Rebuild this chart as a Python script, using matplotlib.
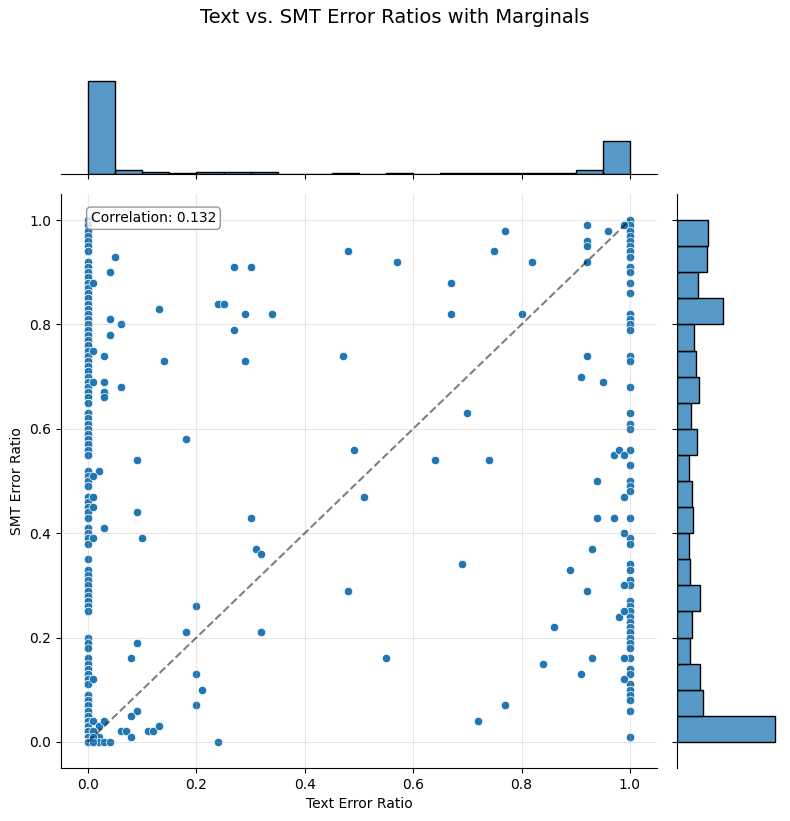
import numpy as np
import matplotlib
matplotlib.use("Agg")
import matplotlib.pyplot as plt
import seaborn as sns

# points on the x = 0 line: smt ratio and how many times it occurs
col0_y = [1.00, 0.99, 0.98, 0.97, 0.96, 0.95,
          0.94, 0.92, 0.91, 0.90,
          0.89, 0.88, 0.87, 0.86, 0.85,
          0.84, 0.83, 0.82, 0.81, 0.80,
          0.79, 0.78, 0.77, 0.76, 0.75,
          0.74, 0.73, 0.72, 0.71, 0.70,
          0.69, 0.68, 0.67, 0.66, 0.65,
          0.63, 0.62, 0.61, 0.60,
          0.59, 0.58, 0.57, 0.56, 0.55,
          0.52, 0.51, 0.50,
          0.49, 0.47, 0.46, 0.45,
          0.44, 0.43, 0.41, 0.40,
          0.39, 0.38, 0.35,
          0.33, 0.32, 0.31, 0.30,
          0.29, 0.28, 0.27, 0.26, 0.25,
          0.20,
          0.19, 0.18, 0.16, 0.15,
          0.14, 0.13, 0.12, 0.11,
          0.09, 0.08, 0.07, 0.06, 0.05,
          0.04, 0.03, 0.02, 0.01, 0.00]
col0_n = [4, 1, 2, 1, 1, 1,
          2, 3, 3, 3,
          3, 3, 3, 3, 3,
          4, 5, 5, 4, 6,
          3, 3, 2, 3, 2,
          2, 2, 3, 2, 2,
          3, 3, 3, 3, 3,
          3, 2, 3, 2,
          3, 3, 3, 2, 3,
          1, 1, 2,
          3, 2, 2, 2,
          2, 3, 2, 2,
          2, 2, 1,
          2, 1, 2, 1,
          2, 2, 3, 3, 3,
          3,
          1, 1, 1, 1,
          3, 3, 3, 3,
          4, 4, 4, 4, 3,
          6, 8, 10, 15, 33]

# points on the x = 1 line
col1_y = [1.00, 0.99, 0.98, 0.97, 0.96, 0.95,
          0.94, 0.93, 0.91, 0.90,
          0.88, 0.86,
          0.82, 0.81, 0.80,
          0.79,
          0.74, 0.73,
          0.68,
          0.63, 0.61, 0.60,
          0.56,
          0.53, 0.50,
          0.49, 0.48,
          0.43,
          0.39, 0.38,
          0.34, 0.33, 0.31, 0.30,
          0.27, 0.26, 0.25,
          0.24, 0.23, 0.22, 0.21, 0.20,
          0.19, 0.18, 0.16,
          0.14, 0.13, 0.11, 0.10,
          0.09, 0.08, 0.06,
          0.01]
col1_n = [8, 2, 2, 1, 1, 1,
          3, 3, 2, 2,
          2, 2,
          6, 2, 5,
          1,
          1, 1,
          1,
          1, 1, 1,
          1,
          1, 1,
          1, 1,
          1,
          1, 1,
          1, 1, 1, 1,
          1, 1, 4,
          1, 1, 2, 2, 2,
          1, 1, 1,
          1, 1, 1, 3,
          1, 1, 1,
          8]

# everything in between
other_x = [0.01, 0.02, 0.03, 0.02, 0.01, 0.01, 0.02, 0.03, 0.04, 0.06, 0.07, 0.08,
           0.11, 0.12, 0.13, 0.24, 0.72, 0.01,
           0.09, 0.08, 0.20, 0.77,
           0.01, 0.20, 0.21, 0.91, 0.99,
           0.08, 0.09, 0.55, 0.93, 0.99, 0.84,
           0.18, 0.32, 0.86, 0.98,
           0.20, 0.48, 0.92, 0.99,
           0.69, 0.89, 0.99,
           0.01, 0.10, 0.31, 0.32, 0.93,
           0.03, 0.09, 0.30, 0.94, 0.97, 0.99,
           0.01, 0.01, 0.51, 0.99,
           0.02, 0.01, 0.09, 0.64, 0.74, 0.94,
           0.18, 0.49, 0.97, 0.98, 0.99,
           0.70,
           0.01, 0.03, 0.06, 0.03, 0.03, 0.95,
           0.03, 0.14, 0.29, 0.47, 0.91, 0.92,
           0.01, 0.04, 0.27,
           0.04, 0.06, 0.13, 0.24, 0.25, 0.29, 0.34, 0.67, 0.80,
           0.01, 0.67,
           0.04, 0.05, 0.27, 0.30, 0.48, 0.57, 0.75, 0.82, 0.92,
           0.77, 0.92, 0.92, 0.92, 0.96, 0.99]
other_y = [0.04, 0.03, 0.04, 0.01, 0.02, 0.01, 0.00, 0.00, 0.00, 0.02, 0.02, 0.01,
           0.02, 0.02, 0.03, 0.00, 0.04, 0.00,
           0.06, 0.05, 0.07, 0.07,
           0.12, 0.13, 0.10, 0.13, 0.12,
           0.16, 0.19, 0.16, 0.16, 0.16, 0.15,
           0.21, 0.21, 0.22, 0.24,
           0.26, 0.29, 0.29, 0.25,
           0.34, 0.33, 0.30,
           0.39, 0.39, 0.37, 0.36, 0.37,
           0.41, 0.44, 0.43, 0.43, 0.43, 0.40,
           0.47, 0.45, 0.47, 0.47,
           0.52, 0.51, 0.54, 0.54, 0.54, 0.50,
           0.58, 0.56, 0.55, 0.56, 0.55,
           0.63,
           0.69, 0.69, 0.68, 0.67, 0.66, 0.69,
           0.74, 0.73, 0.73, 0.74, 0.70, 0.74,
           0.75, 0.78, 0.79,
           0.81, 0.80, 0.83, 0.84, 0.84, 0.82, 0.82, 0.82, 0.82,
           0.88, 0.88,
           0.90, 0.93, 0.91, 0.91, 0.94, 0.92, 0.94, 0.92, 0.92,
           0.98, 0.99, 0.96, 0.95, 0.98, 0.99]

text_err = np.concatenate([np.zeros(sum(col0_n)), np.ones(sum(col1_n)), other_x])
smt_err = np.concatenate([np.repeat(col0_y, col0_n), np.repeat(col1_y, col1_n), other_y])

# 20 bins of 0.05; nudge inner edges so values like 0.30 land in the upper bin
edges = np.linspace(0, 1, 21)
edges[1:-1] -= 1e-9

g = sns.jointplot(x=text_err, y=smt_err, height=8,
                  marginal_kws=dict(bins=edges, edgecolor='black'))
g.fig.set_size_inches(7.9, 8.21)
g.ax_joint.set_position([0.0772, 0.0646, 0.7544, 0.6991])
g.ax_marg_x.set_position([0.0772, 0.7881, 0.7544, 0.1194])
g.ax_marg_y.set_position([0.8570, 0.0646, 0.1304, 0.6991])

ax = g.ax_joint
ax.plot([0, 1], [0, 1], 'k--', alpha=0.5)
ax.grid(True, alpha=0.3)
ax.text(0.05, 0.97, 'Correlation: 0.132', transform=ax.transAxes,
        va='top', fontsize=10,
        bbox=dict(boxstyle='round', facecolor='white', edgecolor='gray', alpha=0.8))
g.set_axis_labels('Text Error Ratio', 'SMT Error Ratio')
g.fig.suptitle('Text vs. SMT Error Ratios with Marginals', fontsize=14, y=0.99)

g.fig.savefig('out.png', dpi=100)
